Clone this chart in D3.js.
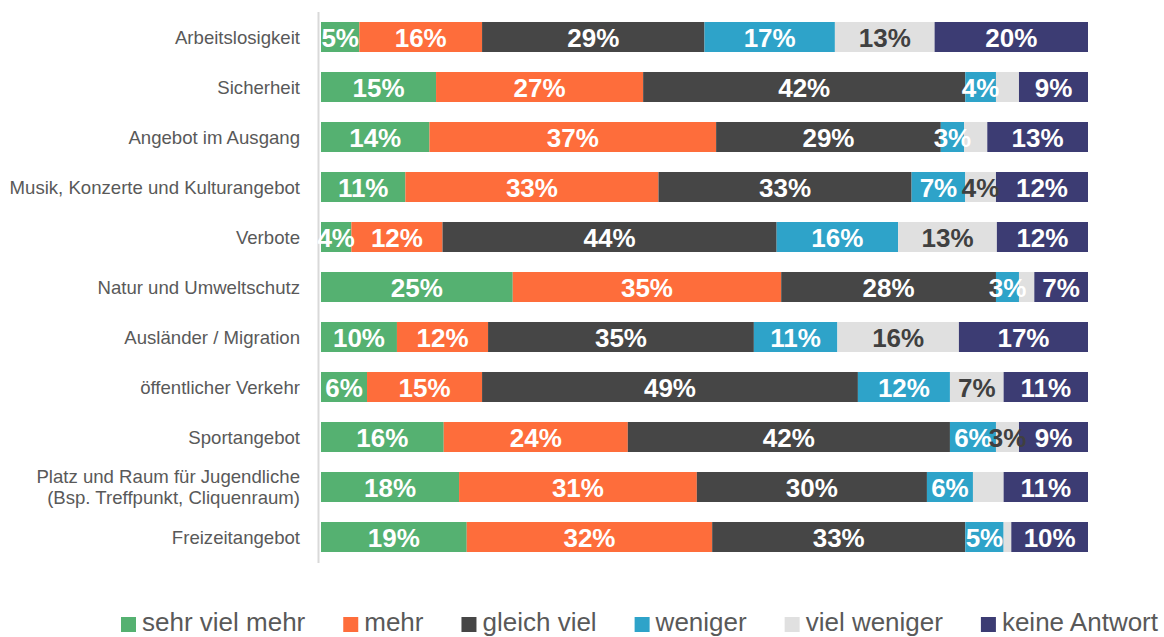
<!DOCTYPE html>
<html><head><meta charset="utf-8">
<script src="https://cdn.jsdelivr.net/npm/d3@7"></script>
<style>body{margin:0;background:#fff}svg{display:block}</style>
</head><body><svg id="c" width="1164" height="637"></svg>
<script>
const categories = ["Arbeitslosigkeit","Sicherheit","Angebot im Ausgang","Musik, Konzerte und Kulturangebot","Verbote","Natur und Umweltschutz","Ausländer / Migration","öffentlicher Verkehr","Sportangebot","Platz und Raum für Jugendliche\n(Bsp. Treffpunkt, Cliquenraum)","Freizeitangebot"];
const seriesNames = ["sehr viel mehr","mehr","gleich viel","weniger","viel weniger","keine Antwort"];
const sehrVielMehr = [5,15,14,11,4,25,10,6,16,18,19];
const mehr         = [16,27,37,33,12,35,12,15,24,31,32];
const gleichViel   = [29,42,29,33,44,28,35,49,42,30,33];
const weniger      = [17,4,3,7,16,3,11,12,6,6,5];
const vielWeniger  = [13,3,3,4,13,2,16,7,3,4,1];
const keineAntwort = [20,9,13,12,12,7,17,11,9,11,10];
const hiddenLabels = [["Sicherheit","viel weniger"],["Angebot im Ausgang","viel weniger"],["Natur und Umweltschutz","viel weniger"],["Platz und Raum für Jugendliche\n(Bsp. Treffpunkt, Cliquenraum)","viel weniger"],["Freizeitangebot","viel weniger"]];

const colors = ["#55b171","#fe6d3b","#464646","#2ea3c9","#e0e0e0","#3c3c73"];
const labelColors = ["#fff","#fff","#fff","#fff","#404040","#fff"];
const seriesValues = [sehrVielMehr,mehr,gleichViel,weniger,vielWeniger,keineAntwort];

const rows = categories.map((c,i)=>{const o={cat:c}; seriesNames.forEach((s,j)=>o[s]=seriesValues[j][i]); return o;});
const stack = d3.stack().keys(seriesNames).offset(d3.stackOffsetExpand)(rows);

const svg = d3.select("#c");
const x = d3.scaleLinear().domain([0,1]).range([321,1088]);
const y = d3.scaleBand().domain(categories).range([12,562]).paddingInner(0.4).paddingOuter(0.2);

// axis line
svg.append("line").attr("x1",318.5).attr("x2",318.5).attr("y1",12).attr("y2",563)
  .attr("stroke","#d9d9d9").attr("stroke-width",2);

// bars
const g = svg.append("g");
stack.forEach((layer,j)=>{
  g.selectAll(null).data(layer).join("rect")
    .attr("x",d=>x(d[0])).attr("width",d=>x(d[1])-x(d[0]))
    .attr("y",d=>y(d.data.cat)).attr("height",y.bandwidth())
    .attr("fill",colors[j]);
});
// labels
const hidden = new Set(hiddenLabels.map(h=>h[0]+"|"+h[1]));
stack.forEach((layer,j)=>{
  g.selectAll(null).data(layer.filter(d=>!hidden.has(d.data.cat+"|"+seriesNames[j]))).join("text")
    .attr("x",d=>(x(d[0])+x(d[1]))/2).attr("y",d=>y(d.data.cat)+y.bandwidth()/2+9.5)
    .attr("text-anchor","middle")
    .attr("font-family","Liberation Sans, Arial, sans-serif").attr("font-weight","bold").attr("font-size",26)
    .attr("fill",labelColors[j])
    .text(d=>d.data[seriesNames[j]]+"%");
});

// category labels
const yAxis = svg.append("g");
categories.forEach(c=>{
  const lines = c.split("\n");
  const cy = y(c)+y.bandwidth()/2;
  const t = yAxis.append("text").attr("text-anchor","end")
    .attr("font-family","Liberation Sans, Arial, sans-serif").attr("font-size",18.6).attr("fill","#595959");
  lines.forEach((l,k)=>{
    t.append("tspan").attr("x",300).attr("y",cy+6.5+(k-(lines.length-1)/2)*21).text(l);
  });
});

// legend
const lg = svg.append("g");
const items = seriesNames.map((s,j)=>{
  const t = lg.append("text").attr("font-family","Liberation Sans, Arial, sans-serif").attr("font-size",26)
    .attr("fill","#595959").attr("y",631).text(s);
  return {t, w:t.node().getComputedTextLength(), j};
});
const start = 121, end = 1158;
const total = d3.sum(items,d=>21+d.w);
const gap = (end-start-total)/(items.length-1);
let cx = start;
items.forEach(it=>{
  lg.append("rect").attr("x",cx).attr("y",617).attr("width",15).attr("height",15).attr("fill",colors[it.j]);
  it.t.attr("x",cx+21);
  cx += 21+it.w+gap;
});
</script></body></html>
